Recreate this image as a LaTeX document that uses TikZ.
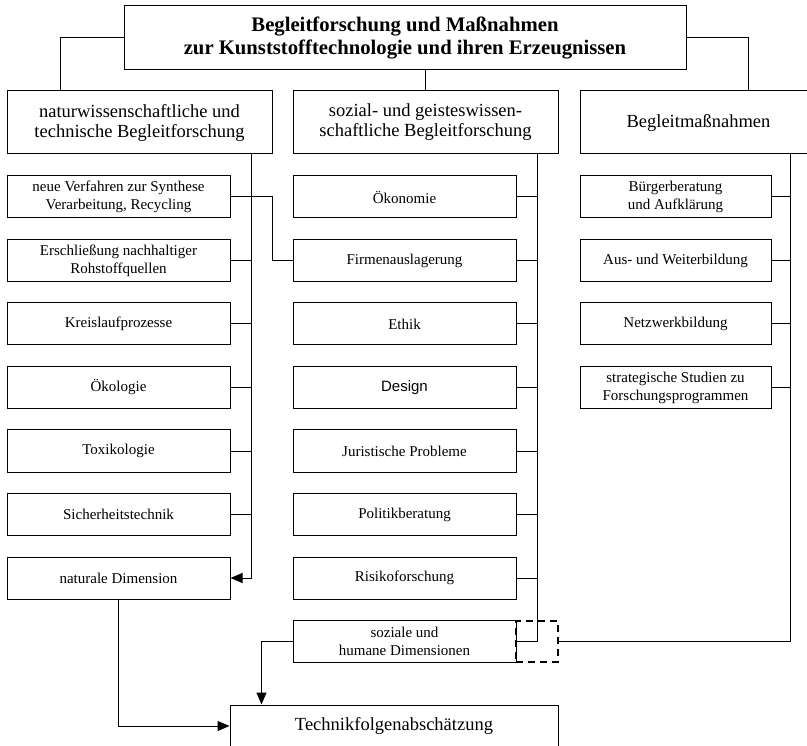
\documentclass[tikz,border=0pt]{standalone}
\usepackage{fontspec}
\setmainfont{Liberation Serif}
\newfontfamily\arialfont{Liberation Sans}
\usetikzlibrary{arrows.meta}

\begin{document}
\begin{tikzpicture}[x=1pt,y=-1pt,line width=1pt,
  topbox/.style={draw,rectangle,inner sep=0pt,minimum width=562pt,minimum height=64pt,
    align=center,font=\fontsize{20.7}{23}\selectfont\bfseries},
  headbox/.style={draw,rectangle,inner sep=0pt,minimum width=265pt,minimum height=63pt,
    align=center,font=\fontsize{18.5}{20}\selectfont},
  itembox/.style={draw,rectangle,inner sep=0pt,minimum width=223pt,minimum height=42pt,
    align=center,font=\fontsize{15}{18}\selectfont},
  dashbox/.style={draw,rectangle,dash pattern=on 7pt off 5pt,line width=2pt,
    minimum width=42pt,minimum height=41pt},
  arr/.style={-{Triangle[length=12pt,width=10pt]}}]
\useasboundingbox (0,0) rectangle (807,746);
\clip (0,0) rectangle (807,746);

\node[topbox] (title) at (405,38) {Begleitforschung und Maßnahmen\\zur Kunststofftechnologie und ihren Erzeugnissen};

\node[headbox] (nat) at (139.5,122.5) {naturwissenschaftliche und\\technische Begleitforschung};
\node[headbox] (soz) at (425.5,122.5) {sozial- und geisteswissen-\\schaftliche Begleitforschung};
\node[headbox,minimum width=237pt] (beg) at (698.5,122.5) {Begleitmaßnahmen};

\node[itembox] (n1) at (118.5,197) {neue Verfahren zur Synthese\\Verarbeitung, Recycling};
\node[itembox] (n2) at (118.5,260.5) {Erschließung nachhaltiger\\Rohstoffquellen};
\node[itembox] (n3) at (118.5,324) {Kreislaufprozesse};
\node[itembox] (n4) at (118.5,387.5) {Ökologie};
\node[itembox] (n5) at (118.5,451) {Toxikologie};
\node[itembox] (n6) at (118.5,514.5) {Sicherheitstechnik};
\node[itembox] (natd) at (118.5,578) {naturale Dimension};

\node[itembox] (s1) at (404.5,197) {Ökonomie};
\node[itembox] (s2) at (404.5,260.5) {Firmenauslagerung};
\node[itembox] (s3) at (404.5,324) {Ethik};
\node[itembox] (s4) at (404.5,387.5) {\arialfont Design};
\node[itembox] (s5) at (404.5,451) {Juristische Probleme};
\node[itembox] (s6) at (404.5,514.5) {Politikberatung};
\node[itembox] (s7) at (404.5,578) {Risikoforschung};
\node[itembox] (sozd) at (404.5,641.5) {soziale und\\humane Dimensionen};

\node[itembox,minimum width=191pt] (b1) at (675.5,197) {Bürgerberatung\\und Aufklärung};
\node[itembox,minimum width=191pt] (b2) at (675.5,260.5) {Aus- und Weiterbildung};
\node[itembox,minimum width=191pt] (b3) at (675.5,324) {Netzwerkbildung};
\node[itembox,minimum width=191pt] (b4) at (675.5,387.5) {strategische Studien zu\\Forschungsprogrammen};

\node[itembox,minimum width=328pt,font=\fontsize{18.5}{20}\selectfont] (tfa) at (394,726) {Technikfolgenabschätzung};

\draw (title.west) -| ([xshift=54pt]nat.north west);
\draw (title.south -| soz.north) -- (soz.north);
\draw (title.east) -| ([xshift=169pt]beg.north west);

\coordinate (natbus) at ([xshift=-21pt]nat.south east);
\coordinate (sozbus) at ([xshift=-21pt]soz.south east);
\coordinate (begbus) at ([xshift=211pt]beg.south west);

\foreach \n in {n1,n2,n3,n4,n5,n6}
  \draw (\n.east) -- (\n.east -| natbus);
\foreach \n in {s1,s2,s3,s4,s5,s6,s7}
  \draw (\n.east) -- (\n.east -| sozbus);
\foreach \n in {b1,b2,b3,b4}
  \draw (\n.east) -- (\n.east -| begbus);

\draw[arr] (natbus) |- (natd.east);
\draw (sozbus) |- (sozd.east);
\draw (n1.east) -- ++(42,0) |- (s2.west);

\node[dashbox] (dashfrm) at (537,641.5) {};
\draw (begbus) |- (dashfrm.east);

\draw[arr] (natd.south) |- (tfa.west);
\draw[arr] (sozd.west) -| ([xshift=32pt]tfa.north west);
\end{tikzpicture}
\end{document}
